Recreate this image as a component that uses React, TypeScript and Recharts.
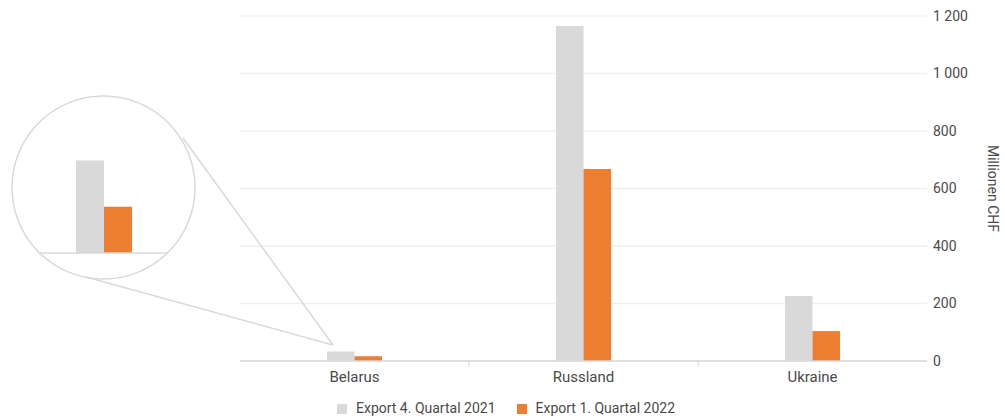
import { BarChart, Bar, XAxis, YAxis, CartesianGrid, Legend, ReferenceLine } from 'recharts';

const countries = ['Belarus', 'Russland', 'Ukraine'];
const export2021Q4 = [33, 1165, 226];
const export2022Q1 = [16.5, 668, 104];
const yTicks = [0, 200, 400, 600, 800, 1000, 1200];

const GREY = '#d9d9d9';
const ORANGE = '#ed7d31';
const TEXT = '#4a4a4a';
const FONT = 'Roboto, "Noto Sans", sans-serif';

const data = countries.map((name, i) => ({ name, exp2021: export2021Q4[i], exp2022: export2022Q1[i] }));

// "1 200" style thousands separator
const fmt = (v: number) =>
  v >= 1000 ? `${Math.floor(v / 1000)} ${String(v % 1000).padStart(3, '0')}` : String(v);

// category label + small tick marks on the band boundaries
const CategoryTick = ({ x, y, payload, index }: any) => {
  const half = payload?.offset ?? 114.5;
  const axisY = y - 8;
  return (
    <g>
      {index > 0 && (
        <line x1={x - half} x2={x - half} y1={axisY} y2={axisY + 6} stroke={GREY} strokeWidth={1} />
      )}
      <text x={x} y={y + 2} dy="0.71em" textAnchor="middle" fill={TEXT} fontSize={15} fontFamily={FONT}>
        {payload.value}
      </text>
    </g>
  );
};

const UnitLabel = ({ viewBox }: any) => {
  const x = viewBox.x + viewBox.width - 12;
  const y = viewBox.y + viewBox.height / 2;
  return (
    <text x={x} y={y} transform={`rotate(90, ${x}, ${y})`} textAnchor="middle" dominantBaseline="central"
      fill={TEXT} fontSize={14} fontFamily={FONT}>
      Millionen CHF
    </text>
  );
};

export default function App() {
  return (
    <div style={{ position: 'absolute', left: 0, top: 0, width: 1005, height: 416, background: '#fff' }}>
      <style>{`body{margin:0}`}</style>
      <BarChart
        width={1005}
        height={416}
        data={data}
        margin={{ top: 16, right: 0, bottom: 0, left: 240 }}
        barGap={0}
        style={{ fontFamily: FONT }}
      >
        <CartesianGrid vertical={false} stroke="#efefef" strokeWidth={1.5} />
        <XAxis
          dataKey="name"
          height={39}
          axisLine={{ stroke: GREY, strokeWidth: 1.5 }}
          tickLine={false}
          tickSize={6}
          tickMargin={2}
          tick={<CategoryTick />}
        />
        <YAxis
          orientation="right"
          width={78}
          domain={[0, 1200]}
          ticks={yTicks}
          tickFormatter={fmt}
          axisLine={false}
          tickLine={false}
          tickSize={0}
          tickMargin={6}
          tick={{ fill: TEXT, fontSize: 14, fontFamily: FONT }}
          label={<UnitLabel />}
        />
        <Legend
          verticalAlign="bottom"
          iconType="square"
          iconSize={10}
          itemSorter="dataKey"
          wrapperStyle={{ left: 14, width: 1005, fontSize: 14, fontFamily: FONT }}
          formatter={(value) => (
            <span style={{ color: TEXT, paddingLeft: 5, paddingRight: 11 }}>{value}</span>
          )}
        />
        <Bar dataKey="exp2021" name="Export 4. Quartal 2021" fill={GREY} barSize={27.5} isAnimationActive={false} />
        <Bar dataKey="exp2022" name="Export 1. Quartal 2022" fill={ORANGE} barSize={27.5} isAnimationActive={false} />
      </BarChart>

      {/* magnifier circle and connector lines */}
      <svg width={1005} height={416} style={{ position: 'absolute', left: 0, top: 0, pointerEvents: 'none' }}>
        <circle cx={103.5} cy={187.5} r={91.5} fill="none" stroke={GREY} strokeWidth={1.5} />
        <line x1={183} y1={138} x2={333} y2={345} stroke={GREY} strokeWidth={1.5} />
        <line x1={86} y1={277} x2={333} y2={345} stroke={GREY} strokeWidth={1.5} />
      </svg>

      {/* magnified Belarus bars */}
      <div style={{ position: 'absolute', left: 39.5, top: 96 }}>
        <BarChart width={128} height={159} data={[data[0]]} margin={{ top: 0, right: 0, bottom: 2, left: 0 }} barGap={0}>
          <XAxis dataKey="name" hide />
          <YAxis hide domain={[0, 56]} allowDataOverflow />
          <ReferenceLine y={0} stroke={GREY} strokeWidth={1.5} />
          <Bar dataKey="exp2021" fill={GREY} barSize={28} isAnimationActive={false} />
          <Bar dataKey="exp2022" fill={ORANGE} barSize={28} isAnimationActive={false} />
        </BarChart>
      </div>
    </div>
  );
}
